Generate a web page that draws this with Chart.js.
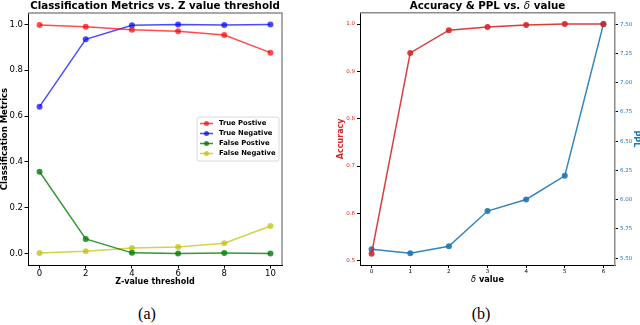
<!DOCTYPE html>
<html>
<head>
<meta charset="utf-8">
<script src="https://cdn.jsdelivr.net/npm/chart.js@4"></script>
<style>
body{margin:0;background:#fff;width:640px;height:325px;position:relative;overflow:hidden}
.pane{position:absolute;top:0;width:320px;height:300px}
.cap{position:absolute;top:305px;width:40px;text-align:center;font-family:'Liberation Serif',serif;font-size:16px;line-height:18px;color:#000}
</style>
</head>
<body>
<div class="pane" style="left:0"><canvas id="metrics"></canvas></div>
<div class="pane" style="left:320px"><canvas id="accppl"></canvas></div>
<div class="cap" style="left:127px">(a)</div>
<div class="cap" style="left:461px">(b)</div>
<script>
// (a) classification metrics per Z-value threshold
const zThreshold = [0, 2, 4, 6, 8, 10];
const truePositive = [0.998, 0.990, 0.977, 0.970, 0.954, 0.877];
const trueNegative = [0.641, 0.935, 0.996, 1.000, 0.998, 1.000];
const falsePositive = [0.357, 0.064, 0.003, 0.000, 0.002, 0.000];
const falseNegative = [0.002, 0.010, 0.024, 0.029, 0.045, 0.120];

// (b) accuracy and perplexity per delta
const deltaValue = [0, 1, 2, 3, 4, 5, 6];
const accuracy = [0.515, 0.939, 0.987, 0.994, 0.998, 1.000, 1.000];
const ppl = [5.577, 5.543, 5.602, 5.903, 6.002, 6.204, 7.500];

Chart.defaults.font.family = "'DejaVu Sans', sans-serif";
Chart.defaults.color = '#000';
Chart.defaults.animation = false;

function pts(xs, ys) {
    return xs.map((x, i) => ({x: x, y: ys[i]}));
}
function fixWidth(w) { return function(scale) { scale.width = w; }; }
function fixHeight(h) { return function(scale) { scale.height = h; }; }

function line(label, xs, ys, color, axis) {
    return {
        label: label,
        data: pts(xs, ys),
        borderColor: color,
        backgroundColor: color,
        borderWidth: 1.5,
        pointRadius: 3,
        pointBorderWidth: 0,
        pointBackgroundColor: color,
        tension: 0,
        yAxisID: axis || 'y'
    };
}

// draw text made of pieces with different fonts, centred on cx
function mixedText(ctx, parts, cx, y) {
    let total = 0;
    parts.forEach(p => { ctx.font = p.font; p.w = ctx.measureText(p.text).width; total += p.w; });
    let x = cx - total / 2;
    ctx.textAlign = 'left';
    parts.forEach(p => { ctx.font = p.font; ctx.fillText(p.text, x, y); x += p.w; });
}

// top/right grey spines, plot title centred on the axes, optional x / y titles
const frame = {
    id: 'frame',
    afterDraw(chart, args, opts) {
        const ctx = chart.ctx, a = chart.chartArea;
        ctx.save();
        ctx.strokeStyle = '#8c8c8c';
        ctx.lineWidth = 1.5;
        ctx.beginPath();
        ctx.moveTo(a.left, a.top);
        ctx.lineTo(a.right, a.top);
        if (opts.right) ctx.lineTo(a.right, a.bottom);
        ctx.stroke();
        ctx.fillStyle = '#000';
        ctx.textBaseline = 'alphabetic';
        mixedText(ctx, opts.title, (a.left + a.right) / 2, a.top - 4);
        ctx.textBaseline = 'middle';
        if (opts.xTitle) {
            mixedText(ctx, opts.xTitle, (a.left + a.right) / 2, a.bottom + 15);
        }
        if (opts.yTitle) {
            ctx.translate(a.left - opts.yTitle.gap, (a.top + a.bottom) / 2);
            ctx.rotate(-Math.PI / 2);
            mixedText(ctx, opts.yTitle.parts, 0, 0);
        }
        ctx.restore();
    }
};

// matplotlib style legend box on the centre right of the plot
const boxLegend = {
    id: 'boxLegend',
    afterDraw(chart) {
        const ctx = chart.ctx, a = chart.chartArea;
        const sets = chart.data.datasets;
        const w = 82, rowH = 10, h = sets.length * rowH + 4;
        const left = a.right - w - 3;
        const top = (a.top + a.bottom) / 2 - h / 2;
        ctx.save();
        ctx.fillStyle = 'rgba(255,255,255,0.85)';
        ctx.strokeStyle = '#d0d0d0';
        ctx.lineWidth = 0.8;
        ctx.beginPath();
        ctx.roundRect(left, top, w, h, 2);
        ctx.fill();
        ctx.stroke();
        ctx.font = "bold 6.8px 'DejaVu Sans'";
        ctx.textBaseline = 'middle';
        sets.forEach((ds, i) => {
            const y = top + 6.5 + i * rowH;
            ctx.strokeStyle = ds.borderColor;
            ctx.lineWidth = 1.5;
            ctx.beginPath();
            ctx.moveTo(left + 3, y);
            ctx.lineTo(left + 16, y);
            ctx.stroke();
            ctx.fillStyle = ds.borderColor;
            ctx.beginPath();
            ctx.arc(left + 9.5, y, 2.5, 0, Math.PI * 2);
            ctx.fill();
            ctx.fillStyle = '#000';
            ctx.fillText(ds.label, left + 22, y);
        });
        ctx.restore();
    }
};

const titleFont = "bold 10.3px 'DejaVu Sans'";
const titleItalic = "italic 10.3px 'DejaVu Sans'";

new Chart(document.getElementById('metrics'), {
    type: 'line',
    data: {
        datasets: [
            line('True Postive', zThreshold, truePositive, 'rgba(255,0,0,0.7)'),
            line('True Negative', zThreshold, trueNegative, 'rgba(0,0,255,0.7)'),
            line('False Postive', zThreshold, falsePositive, 'rgba(0,128,0,0.8)'),
            line('False Negative', zThreshold, falseNegative, 'rgba(191,191,0,0.7)')
        ]
    },
    plugins: [frame, boxLegend],
    options: {
        responsive: true,
        maintainAspectRatio: false,
        layout: {padding: {left: 0, right: 38, top: 13, bottom: 0}},
        plugins: {
            legend: {display: false},
            tooltip: {enabled: false},
            frame: {
                right: true,
                title: [{text: 'Classification Metrics vs. Z value threshold', font: titleFont}],
                yTitle: {gap: 23, parts: [{text: 'Classification Metrics', font: "bold 8.5px 'DejaVu Sans'"}]}
            }
        },
        scales: {
            x: {
                type: 'linear',
                min: -0.5,
                max: 10.5,
                afterFit: fixHeight(35),
                border: {display: true, color: '#000', width: 1},
                grid: {drawOnChartArea: false, drawTicks: true, tickLength: 3.5, tickColor: '#000'},
                ticks: {stepSize: 2, includeBounds: false, padding: 0, font: {size: 8.5}, maxRotation: 0},
                title: {display: true, text: 'Z-value threshold', font: {size: 8, weight: 'bold'}, padding: {top: 0, bottom: 13}}
            },
            y: {
                min: -0.05,
                max: 1.05,
                afterFit: fixWidth(28),
                border: {display: true, color: '#000', width: 1},
                grid: {drawOnChartArea: false, drawTicks: true, tickLength: 3.5, tickColor: '#000'},
                ticks: {stepSize: 0.2, includeBounds: false, padding: 1.5, font: {size: 8.5}, autoSkip: false,
                    callback: v => v.toFixed(1)}
            }
        }
    }
});

new Chart(document.getElementById('accppl'), {
    type: 'line',
    data: {
        datasets: [
            line('Accuracy', deltaValue, accuracy, 'rgba(214,39,40,0.9)', 'y'),
            line('PPL', deltaValue, ppl, 'rgba(31,119,180,0.9)', 'y1')
        ]
    },
    plugins: [frame],
    options: {
        responsive: true,
        maintainAspectRatio: false,
        layout: {padding: {left: 0, right: 0, top: 12.7, bottom: 0}},
        plugins: {
            legend: {display: false},
            tooltip: {enabled: false},
            frame: {
                right: false,
                title: [
                    {text: 'Accuracy & PPL vs. ', font: titleFont},
                    {text: 'δ', font: titleItalic},
                    {text: ' value', font: titleFont}
                ],
                xTitle: [
                    {text: 'δ', font: "italic 8.2px 'DejaVu Sans'"},
                    {text: ' value', font: "bold 8.2px 'DejaVu Sans'"}
                ]
            }
        },
        scales: {
            x: {
                type: 'linear',
                min: -0.3,
                max: 6.3,
                afterFit: fixHeight(35),
                border: {display: true, color: '#000', width: 1},
                grid: {drawOnChartArea: false, drawTicks: true, tickLength: 3, tickColor: '#000'},
                ticks: {stepSize: 1, includeBounds: false, padding: 0.5, font: {size: 5.5}, maxRotation: 0}
            },
            y: {
                position: 'left',
                min: 0.491,
                max: 1.024,
                afterFit: fixWidth(40),
                border: {display: true, color: '#000', width: 1},
                grid: {drawOnChartArea: false, drawTicks: true, tickLength: 3, tickColor: '#000'},
                ticks: {stepSize: 0.1, includeBounds: false, padding: 2, font: {size: 5.5}, color: '#d62728', autoSkip: false,
                    callback: v => v.toFixed(1)},
                title: {display: true, text: 'Accuracy', color: '#d62728', font: {size: 8, weight: 'bold'}, padding: {top: 16, bottom: 0}}
            },
            y1: {
                position: 'right',
                min: 5.442,
                max: 7.598,
                afterFit: fixWidth(25),
                border: {display: true, color: '#8c8c8c', width: 1.5},
                grid: {drawOnChartArea: false, drawTicks: true, tickLength: 3, tickColor: '#000'},
                ticks: {stepSize: 0.25, includeBounds: false, padding: 2, font: {size: 5.5}, color: '#1f77b4', autoSkip: false,
                    callback: v => v.toFixed(2)},
                title: {display: true, text: 'PPL', color: '#1f77b4', font: {size: 8, weight: 'bold', lineHeight: 1}, padding: {top: 0, bottom: 0}}
            }
        }
    }
});
</script>
</body>
</html>
